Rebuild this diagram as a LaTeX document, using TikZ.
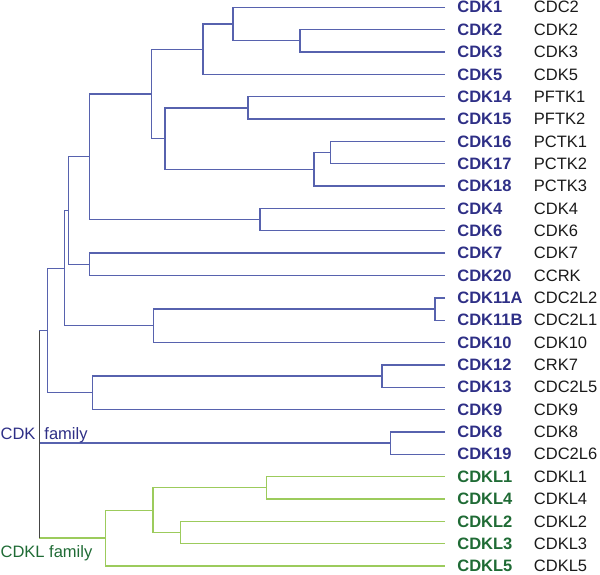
\documentclass[tikz,border=0pt]{standalone}
\usepackage{fontspec}
\setmainfont{Liberation Sans}

\definecolor{cdkline}{HTML}{5762AE}
\definecolor{cdktext}{HTML}{2E2F86}
\definecolor{cdklline}{HTML}{9CCB5C}
\definecolor{cdkltext}{HTML}{1F6B35}
\definecolor{rootgray}{HTML}{454545}
\definecolor{oldtext}{HTML}{1A1A1A}

\begin{document}
\begin{tikzpicture}[x = 1pt, y = -22.35pt, % one unit down per leaf
                line width = 1.3pt, % branch width
                line join = miter
            ]

            \tikzstyle{every node}=[inner sep = 0pt, anchor = west,
            font = \fontsize{16.5}{18}\selectfont]
            \tikzstyle{newname}=[font = \fontsize{16.5}{18}\selectfont\bfseries]
            \tikzstyle{oldname}=[text = oldtext]
            \tikzstyle{blue}=[draw = cdkline]
            \tikzstyle{green}=[draw = cdklline]

            \useasboundingbox (0,-0.3266) rectangle (600,25.356);

            % leaves, CDK family
            \foreach \i/\new/\old in {0/CDK1/CDC2, 1/CDK2/CDK2, 2/CDK3/CDK3,
                3/CDK5/CDK5, 4/CDK14/PFTK1, 5/CDK15/PFTK2, 6/CDK16/PCTK1,
                7/CDK17/PCTK2, 8/CDK18/PCTK3, 9/CDK4/CDK4, 10/CDK6/CDK6,
                11/CDK7/CDK7, 12/CDK20/CCRK, 13/CDK11A/CDC2L2,
                14/CDK11B/CDC2L1, 15/CDK10/CDK10, 16/CDK12/CRK7,
                17/CDK13/CDC2L5, 18/CDK9/CDK9, 19/CDK8/CDK8, 20/CDK19/CDC2L6}
            {
                \coordinate (t\i) at (445,\i);
                \node[newname, text = cdktext] (n\i) at (456.7,\i) {\new};
                \node[oldname] (o\i) at (533.3,\i) {\old};
            }
            % leaves, CDKL family
            \foreach \i/\new in {21/CDKL1, 22/CDKL4, 23/CDKL2, 24/CDKL3,
                25/CDKL5}
            {
                \coordinate (t\i) at (445,\i);
                \node[newname, text = cdkltext] (n\i) at (456.7,\i) {\new};
                \node[oldname] (o\i) at (533.3,\i) {\new};
            }

            % inner nodes
            \coordinate (k23) at (300,1.5);
            \coordinate (k123) at (233,0.75);
            \coordinate (k1235) at (203,1.875);
            \coordinate (k1415) at (248,4.5);
            \coordinate (k1617) at (330.7,6.5);
            \coordinate (k1618) at (314,7.25);
            \coordinate (k1418) at (165,5.875);
            \coordinate (k118) at (151.7,3.875);
            \coordinate (k46) at (260,9.5);
            \coordinate (k146) at (89.3,6.6875);
            \coordinate (k720) at (89.3,11.5);
            \coordinate (k120) at (68.3,9.094);
            \coordinate (k11) at (435,13.5);
            \coordinate (k1110) at (153.7,14.25);
            \coordinate (k110) at (64.3,11.672);
            \coordinate (k1213) at (382,16.5);
            \coordinate (k129) at (92.3,17.25);
            \coordinate (k19) at (47.3,14.461);
            \coordinate (k819) at (390.7,19.5);
            \coordinate (l14) at (266.7,21.5);
            \coordinate (l23) at (180.7,23.5);
            \coordinate (l1423) at (153,22.5);
            \coordinate (l15) at (105.3,23.75);
            \coordinate (r1) at (39.3,14.461);
            \coordinate (r2) at (39.3,23.75);

            \draw[blue] (t1) -| (k23) |- (t2);
            \draw[blue] (t0) -| (k123) |- (k23);
            \draw[blue] (k123) -| (k1235) |- (t3);
            \draw[blue] (t4) -| (k1415) |- (t5);
            \draw[blue] (t6) -| (k1617) |- (t7);
            \draw[blue] (k1617) -| (k1618) |- (t8);
            \draw[blue] (k1415) -| (k1418) |- (k1618);
            \draw[blue] (k1235) -| (k118) |- (k1418);
            \draw[blue] (t9) -| (k46) |- (t10);
            \draw[blue] (k118) -| (k146) |- (k46);
            \draw[blue] (t11) -| (k720) |- (t12);
            \draw[blue] (k146) -| (k120) |- (k720);
            \draw[blue] (t13) -| (k11) |- (t14);
            \draw[blue] (k11) -| (k1110) |- (t15);
            \draw[blue] (k120) -| (k110) |- (k1110);
            \draw[blue] (t16) -| (k1213) |- (t17);
            \draw[blue] (k1213) -| (k129) |- (t18);
            \draw[blue] (k110) -| (k19) |- (k129);
            \draw[blue] (t19) -| (k819) |- (t20);
            \draw[blue] (r1) -- (k19);
            \draw[blue] (r1 |- k819) -- (k819);

            \draw[green] (t21) -| (l14) |- (t22);
            \draw[green] (t23) -| (l23) |- (t24);
            \draw[green] (l14) -| (l1423) |- (l23);
            \draw[green] (l1423) -| (l15) |- (t25);
            \draw[green] (r2) -- (l15);

            \draw[rootgray] (r1) -- (r2);

            \node[anchor = base west, text = cdktext] (cdkfam) at (0,19.316)
            {CDK\hspace{9pt}family};
            \node[anchor = base west, text = cdkltext] (cdklfam) at (0,24.595)
            {CDKL family};
\end{tikzpicture}
\end{document}
